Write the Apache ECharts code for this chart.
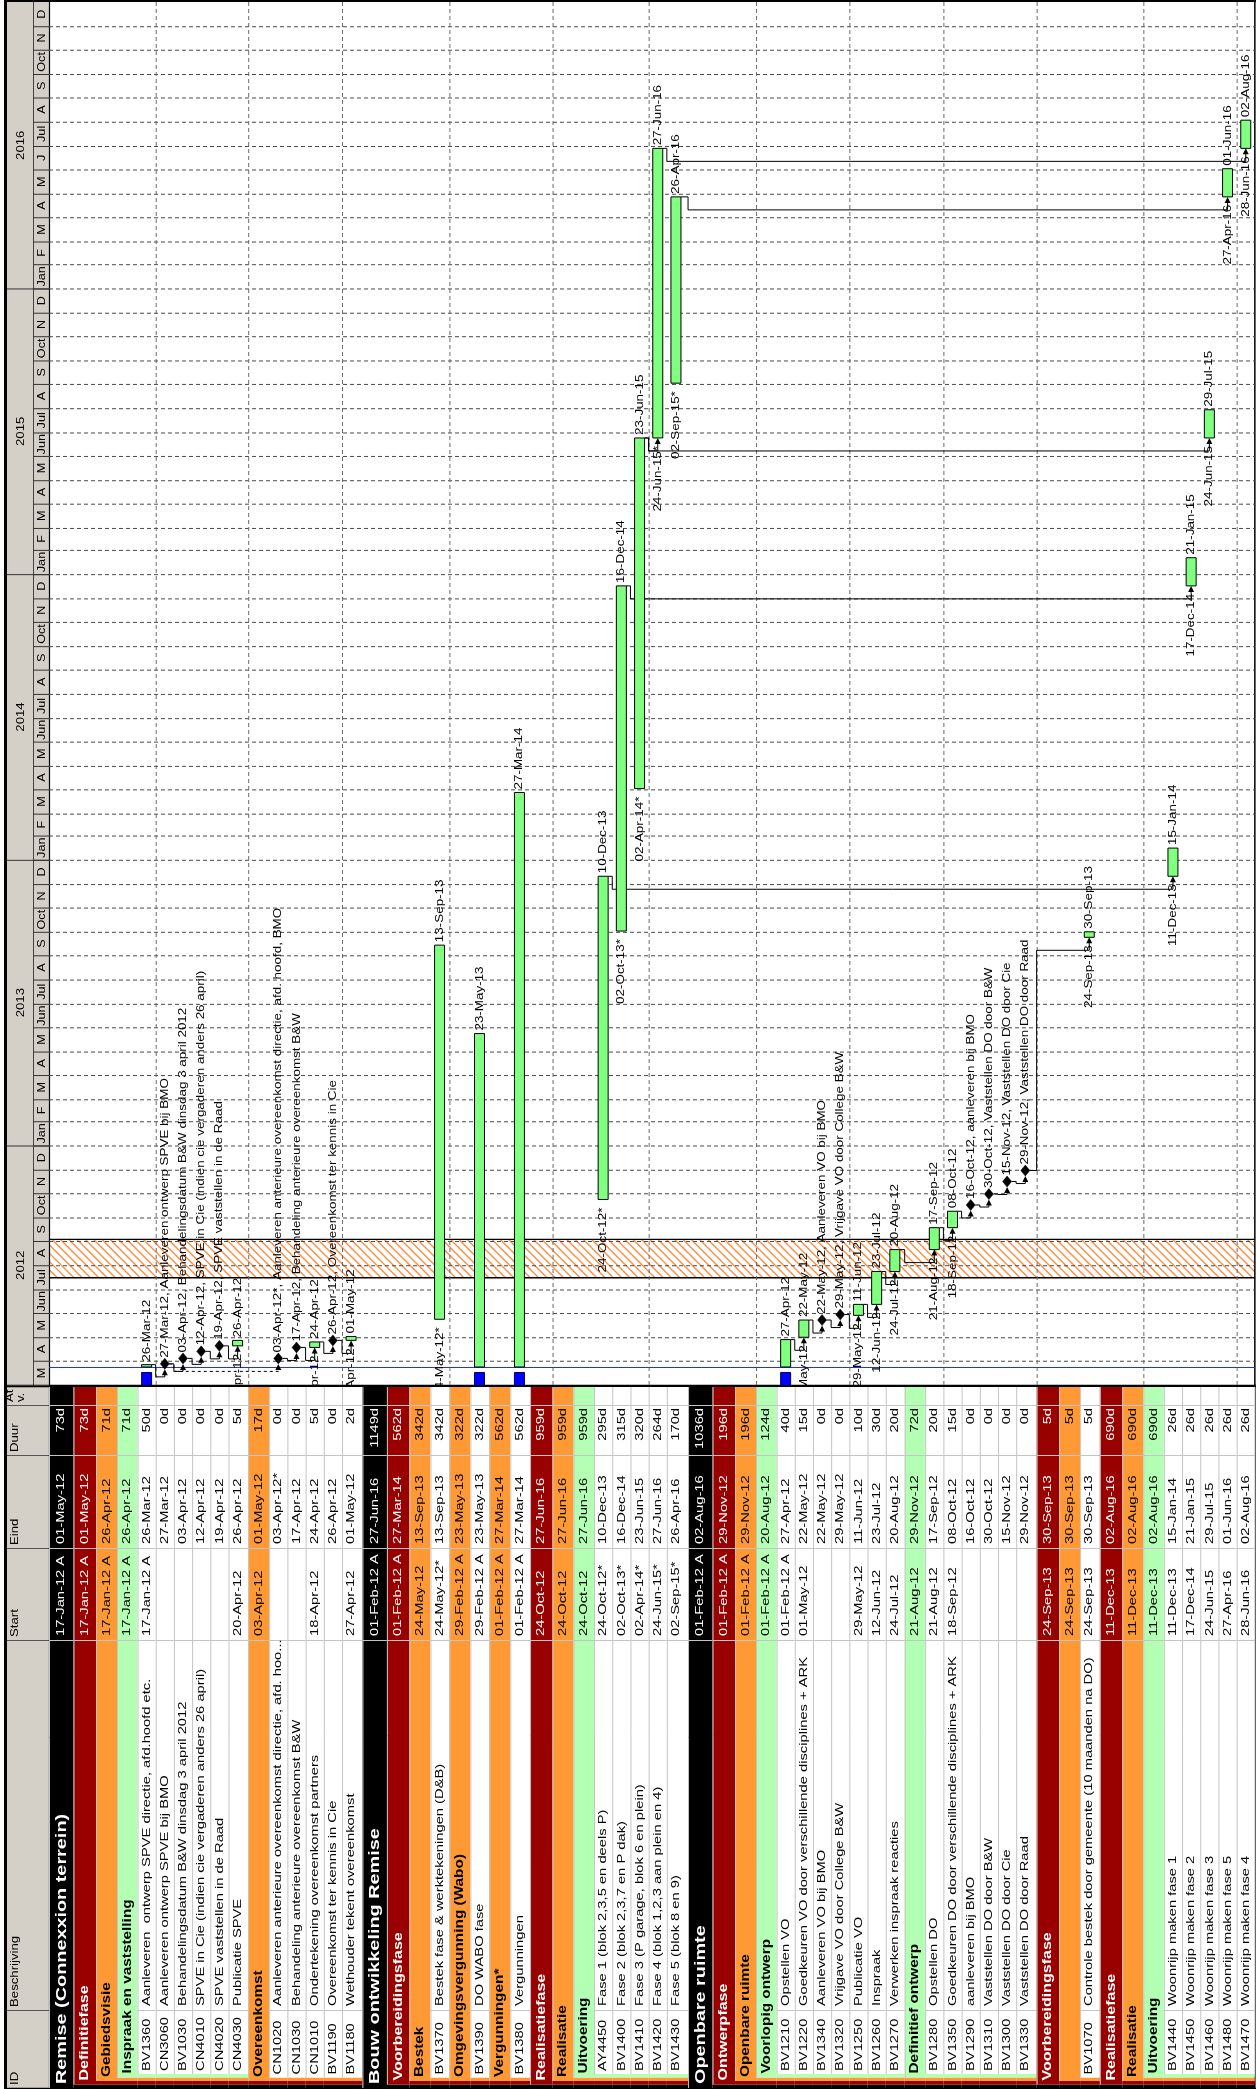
<!DOCTYPE html>
<html>
<head>
<meta charset="utf-8">
<script src="https://cdn.jsdelivr.net/npm/echarts@6.0.0/dist/echarts.min.js"></script>
<style>
html,body{margin:0;padding:0;background:#ffffff;}
#chart{width:1256px;height:2089px;}
</style>
</head>
<body>
<div id="chart"></div>
<script>
// ================= DATA =================
const levels = [0,1,2,3, 4,4,4,4,4,4, 2, 4,4,4,4,4, 0,1,2,4,2,4,2,4, 1,2,3, 4,4,4,4,4, 0,1,2,3, 4,4,4,4,4,4,4, 3, 4,4,4,4,4,4, 1,2,4, 1,2,3, 4,4,4,4,4];
const ids = ['','','','','BV1360','CN3060','BV1030','CN4010','CN4020','CN4030','','CN1020','CN1030','CN1010','BV1190','BV1180',
  '','','','BV1370','','BV1390','','BV1380','','','','AY4450','BV1400','BV1410','BV1420','BV1430',
  '','','','','BV1210','BV1220','BV1340','BV1320','BV1250','BV1260','BV1270','','BV1280','BV1350','BV1290','BV1310','BV1300','BV1330',
  '','','BV1070','','','','BV1440','BV1450','BV1460','BV1480','BV1470'];
const names = ['Remise (Connexxion terrein)','Definitiefase','Gebiedsvisie','Inspraak en vaststelling',
  'Aanleveren  ontwerp SPVE directie, afd.hoofd etc.','Aanleveren ontwerp SPVE bij BMO','Behandelingsdatum B&W dinsdag 3 april 2012',
  'SPVE in Cie (indien cie vergaderen anders 26 april)','SPVE vaststellen in de Raad','Publicatie SPVE','Overeenkomst',
  'Aanleveren anterieure overeenkomst directie, afd. hoo...','Behandeling anterieure overeenkomst B&W','Ondertekening overeenkomst partners',
  'Overeenkomst ter kennis in Cie','Wethouder tekent overeenkomst',
  'Bouw ontwikkeling Remise','Voorbereidingsfase','Bestek','Bestek fase & werktekeningen (D&B)','Omgevingsvergunning (Wabo)','DO WABO fase',
  'Vergunningen*','Vergunningen','Realisatiefase','Realisatie','Uitvoering',
  'Fase 1 (blok 2,3,5 en deels P)','Fase 2 (blok 2,3,7 en P dak)','Fase 3 (P garage, blok 6 en plein)','Fase 4 (blok 1,2,3 aan plein en 4)','Fase 5 (blok 8 en 9)',
  'Openbare ruimte','Ontwerpfase','Openbare ruimte','Voorlopig ontwerp','Opstellen VO','Goedkeuren VO door verschillende disciplines + ARK',
  'Aanleveren VO bij BMO','Vrijgave VO door College B&W','Publicatie VO','Inspraak','Verwerken inspraak reacties','Definitief ontwerp',
  'Opstellen DO','Goedkeuren DO door verschillende disciplines + ARK','aanleveren bij BMO','Vaststellen DO door B&W','Vaststellen DO door Cie',
  'Vaststellen DO door Raad','Voorbereidingsfase','','Controle bestek door gemeente (10 maanden na DO)','Realisatiefase','Realisatie','Uitvoering',
  'Woonrijp maken fase 1','Woonrijp maken fase 2','Woonrijp maken fase 3','Woonrijp maken fase 5','Woonrijp maken fase 4'];
const starts = ['17-Jan-12 A','17-Jan-12 A','17-Jan-12 A','17-Jan-12 A','17-Jan-12 A','','','','','20-Apr-12','03-Apr-12','','','18-Apr-12','','27-Apr-12',
  '01-Feb-12 A','01-Feb-12 A','24-May-12','24-May-12*','29-Feb-12 A','29-Feb-12 A','01-Feb-12 A','01-Feb-12 A','24-Oct-12','24-Oct-12','24-Oct-12',
  '24-Oct-12*','02-Oct-13*','02-Apr-14*','24-Jun-15*','02-Sep-15*',
  '01-Feb-12 A','01-Feb-12 A','01-Feb-12 A','01-Feb-12 A','01-Feb-12 A','01-May-12','','','29-May-12','12-Jun-12','24-Jul-12','21-Aug-12',
  '21-Aug-12','18-Sep-12','','','','','24-Sep-13','24-Sep-13','24-Sep-13','11-Dec-13','11-Dec-13','11-Dec-13',
  '11-Dec-13','17-Dec-14','24-Jun-15','27-Apr-16','28-Jun-16'];
const ends = ['01-May-12','01-May-12','26-Apr-12','26-Apr-12','26-Mar-12','27-Mar-12','03-Apr-12','12-Apr-12','19-Apr-12','26-Apr-12','01-May-12',
  '03-Apr-12*','17-Apr-12','24-Apr-12','26-Apr-12','01-May-12',
  '27-Jun-16','27-Mar-14','13-Sep-13','13-Sep-13','23-May-13','23-May-13','27-Mar-14','27-Mar-14','27-Jun-16','27-Jun-16','27-Jun-16',
  '10-Dec-13','16-Dec-14','23-Jun-15','27-Jun-16','26-Apr-16',
  '02-Aug-16','29-Nov-12','29-Nov-12','20-Aug-12','27-Apr-12','22-May-12','22-May-12','29-May-12','11-Jun-12','23-Jul-12','20-Aug-12','29-Nov-12',
  '17-Sep-12','08-Oct-12','16-Oct-12','30-Oct-12','15-Nov-12','29-Nov-12','30-Sep-13','30-Sep-13','30-Sep-13','02-Aug-16','02-Aug-16','02-Aug-16',
  '15-Jan-14','21-Jan-15','29-Jul-15','01-Jun-16','02-Aug-16'];
const durations = ['73d','73d','71d','71d','50d','0d','0d','0d','0d','5d','17d','0d','0d','5d','0d','2d',
  '1149d','562d','342d','342d','322d','322d','562d','562d','959d','959d','959d','295d','315d','320d','264d','170d',
  '1036d','196d','196d','124d','40d','15d','0d','0d','10d','30d','20d','72d','20d','15d','0d','0d','0d','0d',
  '5d','5d','5d','690d','690d','690d','26d','26d','26d','26d','26d'];
const ganttNames = { CN1020: 'Aanleveren anterieure overeenkomst directie, afd. hoofd, BMO' };
const relations = [
  ['BV1360','CN3060'],['CN3060','BV1030'],['BV1030','CN4010'],['CN4010','CN4020'],['CN4020','CN4030'],
  ['CN3060','CN1020','dash'],['CN1020','CN1030'],['CN1030','CN1010'],['CN1010','BV1190'],['BV1190','BV1180'],
  ['BV1210','BV1220'],['BV1220','BV1340'],['BV1340','BV1320'],['BV1320','BV1250'],['BV1250','BV1260'],['BV1260','BV1270'],
  ['BV1270','BV1280'],['BV1280','BV1350'],['BV1350','BV1290'],['BV1290','BV1310'],['BV1310','BV1300'],['BV1300','BV1330'],
  ['BV1330','BV1070'],['AY4450','BV1440'],['BV1400','BV1450'],['BV1410','BV1460'],['BV1410','BV1420'],
  ['BV1430','BV1480'],['BV1420','BV1470']
];
const years = [2012, 2013, 2014, 2015, 2016];
const monthTickLabels = [
  'M','A','M','Jun','Jul','A','S','Oct','N','D',
  'Jan','F','M','A','M','Jun','Jul','A','S','Oct','N','D',
  'Jan','F','M','A','M','Jun','Jul','A','S','Oct','N','D',
  'Jan','F','M','A','M','Jun','Jul','A','S','Oct','N','D',
  'Jan','F','M','A','M','J','Jul','A','S','Oct','N','D'
];
const columnTitles = ['At\nv.', 'Duur', 'Eind', 'Start', 'Beschrijving', 'ID'];
const axisStart = '01-Mar-12', axisEnd = '01-Jan-17';
const dataDate = '24-Mar-12', actualUntil = '17-Mar-12';
const holidayFrom = '16-Jul-12', holidayTo = '03-Sep-12';

// ================= STYLE / LAYOUT =================
const FONT = '"Liberation Sans", Arial, Helvetica, sans-serif';
const SX = 1.22;
const TSX = 1.28;
const COLORS = ['#000000', '#990000', '#ff9933', '#b3ffb3'];
const HDR = '#d4d0c8';
const ROWH = {0: 24.5, 1: 22.5, 2: 21, 3: 20.5, 4: 18.2};
const FOOT = 0.75;
const FR = 3.5;
const COL = {top: 1387, at: 1405, duur: 1455, eind: 1548, start: 1640, desc: 2010, bottom: 2088};
const GFS = {0: 15.5, 1: 12.5, 2: 12, 3: 12};

const MON = {Jan:0,Feb:1,Mar:2,Apr:3,May:4,Jun:5,Jul:6,Aug:7,Sep:8,Oct:9,Nov:10,Dec:11};
const DAY = 86400000;
function pd(s) { const m = s.match(/(\d\d)-(\w\w\w)-(\d\d)/); return Date.UTC(2000 + (+m[3]), MON[m[2]], +m[1]); }
const T0 = pd(axisStart), T1 = pd(axisEnd);

const N = levels.length;
const rowStart = [], rowEnd = [], frameDepth = [];
(function () {
  let acc = 0; const open = [];
  for (let i = 0; i < N; i++) {
    const L = levels[i];
    if (L < 4) {
      while (open.length && open[open.length - 1] >= L) { open.pop(); acc += FOOT; }
      frameDepth[i] = open.length;
      open.push(L);
    } else {
      frameDepth[i] = open[open.length - 1] + 1;
    }
    rowStart[i] = acc; acc += ROWH[L];
  }
  for (let i = 0; i < N; i++) rowEnd[i] = i < N - 1 ? rowStart[i + 1] : acc;
})();
const TOTAL = rowEnd[N - 1];
const rowCenter = rowStart.map((s, i) => s + ROWH[levels[i]] / 2);
const isMile = levels.map((l, i) => l === 4 && durations[i] === '0d');
const isActual = starts.map(s => / A$/.test(s));
const endT = ends.map(e => pd(e) + DAY);
const startT = starts.map((s, i) => s ? pd(s) : endT[i]);
const idx = {}; ids.forEach((d, i) => { if (d) idx[d] = i; });

function vt(x, y, s, o) {
  o = o || {};
  return { type: 'text', x: x, y: y, rotation: Math.PI / 2, scaleX: o.sx || SX, scaleY: 1, silent: true,
    style: { text: s, x: 0, y: 0, fill: o.c || '#000', fontSize: o.fs || 11, fontWeight: o.b ? 'bold' : 'normal',
      fontFamily: FONT, align: o.al || 'left', verticalAlign: 'middle' } };
}
function rc(x, y, w, h, fill, stroke, lw) {
  return { type: 'rect', silent: true, shape: { x: x, y: y, width: w, height: h },
    style: { fill: fill, stroke: stroke || null, lineWidth: lw || 0 } };
}
function ln(x1, y1, x2, y2, color, lw, dash) {
  return { type: 'line', silent: true, shape: { x1: x1, y1: y1, x2: x2, y2: y2 },
    style: { stroke: color, lineWidth: lw || 1, lineDash: dash || null } };
}

function renderTableRow(params, api) {
  const i = api.value(0), L = levels[i];
  const xa = api.coord([rowStart[i], T0])[0];
  const xb = api.coord([rowEnd[i], T0])[0];
  const xc = api.coord([rowCenter[i], T0])[0];
  const d = frameDepth[i];
  const fb = COL.bottom - d * FR;
  const ch = [];
  for (let k = 0; k < d; k++) ch.push(rc(xa, COL.bottom - (k + 1) * FR, xb - xa, FR, COLORS[k]));
  const grp = L < 4;
  ch.push(rc(xa, COL.top, xb - xa, fb - COL.top, grp ? COLORS[L] : '#ffffff'));
  const seps = [COL.at, COL.duur, COL.eind, COL.start].concat(grp ? [] : [COL.desc]);
  seps.forEach(y => ch.push(ln(xa, y + 0.5, xb, y + 0.5, '#c4c4c4')));
  ch.push(ln(xa + 0.5, COL.top, xa + 0.5, fb, '#c4c4c4'));
  const tc = (L === 0 || L === 1) ? '#ffffff' : '#000000';
  if (grp) {
    if (names[i]) ch.push(vt(xc, fb - 4, names[i], { fs: GFS[L], b: true, c: tc, sx: TSX }));
  } else {
    ch.push(vt(xc, fb - 3, ids[i], { fs: 11.5, sx: TSX }));
    ch.push(vt(xc, COL.desc - 4, names[i], { fs: 11.5, sx: TSX }));
  }
  if (starts[i]) ch.push(vt(xc, COL.start - 4, starts[i], { c: tc, fs: 11.5, sx: TSX }));
  ch.push(vt(xc, COL.eind - 4, ends[i], { c: tc, fs: 11.5, sx: TSX }));
  ch.push(vt(xc, COL.at + 3, durations[i], { c: tc, fs: 11.5, al: 'right', sx: TSX }));
  return { type: 'group', children: ch };
}

function renderStatic(params, api) {
  const gl = api.coord([0, T0])[0], gr = api.coord([TOTAL, T0])[0];
  const gt = api.coord([0, T1])[1], gb = api.coord([0, T0])[1];
  const ch = [];
  ch.push(rc(7, gt, gl - 7, gb - gt, HDR));
  ch.push(rc(7, COL.top, gl - 7, COL.bottom - COL.top + 1, HDR));
  ch.push(ln(33.5, gt, 33.5, gb, '#444'));
  const bounds = [COL.at, COL.duur, COL.eind, COL.start, COL.desc, COL.bottom];
  [COL.at, COL.duur, COL.eind, COL.start, COL.desc].forEach(y => ch.push(ln(7, y + 0.5, gl, y + 0.5, '#555')));
  columnTitles.forEach((t, k) => ch.push(vt(15, bounds[k] - 3, t, { fs: 11, sx: 1.2 })));
  ch.push(rc(4, 0, 3, 2089, '#000'));
  ch.push(ln(4, 1, 1256, 1, '#000', 2));
  ch.push(ln(4, gb + 1, 1256, gb + 1, '#000', 2.5));
  ch.push(ln(gl + 0.5, gt, gl + 0.5, 2089, '#000', 1.2));
  ch.push(ln(gr, 0, gr, 2089, '#000', 1.5));
  ch.push(ln(4, COL.bottom + 0.5, 1256, COL.bottom + 0.5, '#000', 1.5));
  return { type: 'group', children: ch };
}

function renderYear(params, api) {
  const yr = years[api.value(0)];
  const a = Math.max(T0, Date.UTC(yr, 0, 1)), b = Date.UTC(yr + 1, 0, 1);
  const ya = api.coord([0, a])[1], yb = api.coord([0, b])[1];
  return { type: 'group', children: [
    ln(7, ya + 0.5, 49, ya + 0.5, '#333'),
    vt(21, (ya + yb) / 2, String(yr), { fs: 11, al: 'center', sx: 1.2 })
  ] };
}

function renderMonth(params, api) {
  const m = api.value(0);
  const a = Date.UTC(2012, 2 + m, 1), b = Date.UTC(2012, 3 + m, 1);
  const ya = api.coord([0, a])[1], yb = api.coord([0, b])[1];
  const gl = api.coord([0, T0])[0], gr = api.coord([TOTAL, T0])[0];
  const ch = [ln(33, ya + 0.5, gl, ya + 0.5, '#333'),
    vt(41.5, (ya + yb) / 2, monthTickLabels[m], { fs: 11, al: 'center', sx: 1.15 })];
  if (m > 0) ch.push(ln(gl, ya + 0.5, gr, ya + 0.5, '#4a4a4a', 1, [4, 3]));
  return { type: 'group', children: ch };
}

function renderSight(params, api) {
  const i = api.value(0);
  const x = api.coord([rowEnd[i], T0])[0];
  const gt = api.coord([0, T1])[1], gb = api.coord([0, T0])[1];
  return ln(x + 0.5, gt, x + 0.5, gb, '#6a6a6a', 1, [4, 3]);
}

function renderHatch(params, api) {
  const gl = api.coord([0, T0])[0], gr = api.coord([TOTAL, T0])[0];
  const ya = api.coord([0, pd(holidayTo)])[1], yb = api.coord([0, pd(holidayFrom)])[1];
  const h = yb - ya, ch = [rc(gl, ya, gr - gl, h, '#ffffff')];
  for (let k = gl - h; k < gr; k += 8.3) {
    const s = Math.max(ya, ya + (gl - k)), e = Math.min(yb, ya + (gr - k));
    if (e > s) ch.push(ln(k + (s - ya), s, k + (e - ya), e, '#ff8a3c', 1.3));
  }
  ch.push(ln(gl, ya, gr, ya, '#000', 1.3));
  ch.push(ln(gl, yb, gr, yb, '#000', 1.3));
  return { type: 'group', children: ch };
}

function renderDataDate(params, api) {
  const gl = api.coord([0, T0])[0], gr = api.coord([TOTAL, T0])[0];
  const y = api.coord([0, pd(dataDate)])[1];
  return ln(gl, y + 0.5, gr, y + 0.5, '#2030ff', 1.2);
}

function renderRel(params, api) {
  const r = relations[api.value(0)];
  const p = idx[r[0]], s = idx[r[1]];
  const cxp = api.coord([rowCenter[p], T0])[0];
  const yp = api.coord([0, endT[p]])[1];
  const xb = api.coord([rowEnd[p], T0])[0];
  const cxs = api.coord([rowCenter[s], T0])[0];
  const ys = api.coord([0, isMile[s] ? endT[s] : startT[s]])[1];
  const tip = ys + (isMile[s] ? 5.5 : 0);
  const yh = ys + 13;
  const dash = r[2] ? [3, 3] : null;
  const pts = [[cxp + (isMile[p] ? 4.5 : 5), yp], [xb, yp], [xb, yh], [cxs, yh], [cxs, tip + 5]];
  return { type: 'group', children: [
    { type: 'polyline', silent: true, shape: { points: pts }, style: { stroke: '#000', lineWidth: 1, fill: null, lineDash: dash } },
    { type: 'polygon', silent: true, shape: { points: [[cxs, tip], [cxs - 3, tip + 6], [cxs + 3, tip + 6]] }, style: { fill: '#000' } }
  ] };
}

function renderBar(params, api) {
  const i = api.value(0);
  const cx = api.coord([rowCenter[i], T0])[0];
  const ye = api.coord([0, endT[i]])[1];
  const ch = [];
  if (isActual[i]) {
    const y0 = api.coord([0, startT[i]])[1], y1 = api.coord([0, pd(actualUntil)])[1];
    ch.push(rc(cx - 5, y1, 10, y0 - y1, '#0000ff', '#000060', 1));
    const yg = api.coord([0, pd(dataDate)])[1];
    ch.push(rc(cx - 5, ye, 10, yg - ye, '#80ff80', '#000', 1));
  } else {
    const ys = api.coord([0, startT[i]])[1];
    ch.push(rc(cx - 5, ye, 10, ys - ye, '#80ff80', '#000', 1));
  }
  return { type: 'group', children: ch };
}

function renderMile(params, api) {
  const i = api.value(0);
  const cx = api.coord([rowCenter[i], T0])[0];
  const y = api.coord([0, endT[i]])[1];
  return { type: 'polygon', silent: true, shape: { points: [[cx, y - 5.5], [cx + 4.5, y], [cx, y + 5.5], [cx - 4.5, y]] },
    style: { fill: '#000', stroke: '#000', lineWidth: 0.5 } };
}

function renderLabel(params, api) {
  const i = api.value(0);
  const cx = api.coord([rowCenter[i], T0])[0];
  const ye = api.coord([0, endT[i]])[1];
  const ch = [];
  if (isMile[i]) {
    ch.push(vt(cx, ye - 6, ends[i] + ', ' + (ganttNames[ids[i]] || names[i]), { fs: 11 }));
  } else {
    ch.push(vt(cx, ye - 3, ends[i], { fs: 11 }));
    if (!isActual[i]) {
      const ys = api.coord([0, startT[i]])[1];
      ch.push(vt(cx, ys + 8, starts[i], { fs: 11, al: 'right' }));
    }
  }
  return { type: 'group', children: ch };
}

const rowsData = levels.map((l, i) => [i, T0]);
const taskBars = [], miles = [], tasks = [];
levels.forEach((l, i) => { if (l === 4) { tasks.push([i, T0]); if (isMile[i]) miles.push([i, T0]); else taskBars.push([i, T0]); } });
const sightData = []; for (let i = 4; i < N; i += 5) sightData.push([i, T0]);

function cs(name, data, fn, clip) {
  return { type: 'custom', name: name, coordinateSystem: 'cartesian2d', data: data, renderItem: fn,
    clip: !!clip, silent: true, animation: false, encode: { x: 0, y: 1 } };
}

const chart = echarts.init(document.getElementById('chart'), null, { renderer: 'canvas' });
chart.setOption({
  animation: false,
  backgroundColor: '#ffffff',
  tooltip: { show: false },
  grid: { left: 49, top: 2, width: TOTAL, height: 1383, show: false },
  xAxis: { type: 'value', min: 0, max: TOTAL, show: false },
  yAxis: { type: 'time', min: T0, max: T1, show: false },
  series: [
    cs('hatch', [[0, T0]], renderHatch, true),
    cs('static', [[0, T0]], renderStatic, false),
    cs('table', rowsData, renderTableRow, false),
    cs('years', years.map((y, k) => [k, T0]), renderYear, false),
    cs('months', monthTickLabels.map((m, k) => [k, T0]), renderMonth, false),
    cs('sight', sightData, renderSight, true),
    cs('datadate', [[0, T0]], renderDataDate, true),
    cs('relations', relations.map((r, k) => [k, T0]), renderRel, true),
    cs('bars', taskBars, renderBar, true),
    cs('milestones', miles, renderMile, true),
    cs('labels', tasks, renderLabel, true)
  ]
});
</script>
</body>
</html>
